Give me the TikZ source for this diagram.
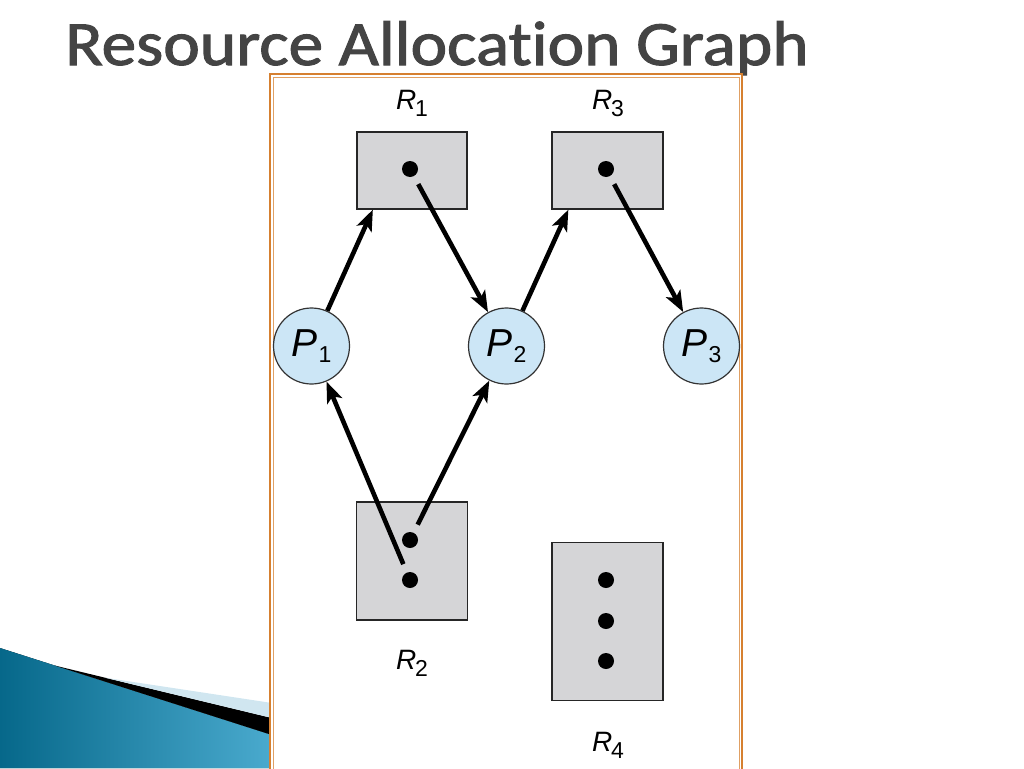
\documentclass[tikz,border=0pt]{standalone}
\usepackage{fontspec}
\usetikzlibrary{arrows.meta}
\definecolor{titlegray}{RGB}{68,68,68}
\definecolor{frameorange}{RGB}{214,128,48}
\definecolor{boxgray}{RGB}{213,213,215}
\definecolor{procblue}{RGB}{204,230,246}
\definecolor{wedgedark}{RGB}{6,104,138}
\definecolor{wedgelight}{RGB}{74,170,206}
\definecolor{wedgepale}{RGB}{208,230,240}
\newfontfamily\titlefont{Carlito}[Ligatures=NoCommon,FakeBold=1.6]
\newfontfamily\labelfont{Liberation Sans}
\newcommand{\rlabel}[1]{{\labelfont\fontsize{28}{28}\selectfont\itshape R\kern-1pt\raisebox{-7pt}{\upshape\fontsize{23}{23}\selectfont #1}}}
\newcommand{\plabel}[1]{{\labelfont\fontsize{39}{39}\selectfont\itshape P\kern1pt\raisebox{-6pt}{\upshape\fontsize{23}{23}\selectfont #1}}}

\begin{document}
\begin{tikzpicture}[x=1pt,y=-1pt]

%
% Styles
%
\tikzstyle{resource} = [rectangle,draw=black!85,fill=boxgray,line width=1.3pt,inner sep=0pt]
\tikzstyle{process}  = [circle,draw=black!80,fill=procblue,line width=1.2pt,minimum size=76pt,inner sep=0pt]
\tikzstyle{dot}      = [circle,fill=black,inner sep=0pt,minimum size=16pt]
\tikzstyle{edge}     = [-{Stealth[length=21pt,width=16pt,inset=5pt]},line width=4.6pt]

\useasboundingbox (0,0) rectangle (1024,768);

% slide decoration
\fill[left color=wedgedark,right color=wedgelight] (0,648) -- (272,735) -- (272,768) -- (0,768) -- cycle;
\fill[black] (55,665.6) -- (272,718) -- (272,735) -- cycle;
\fill[wedgepale] (105,677.7) -- (272,703) -- (272,718) -- cycle;

\node[anchor=base west,inner sep=0pt,text=titlegray,xscale=1.1] (title) at (65,65)
  {\titlefont\fontsize{63}{63}\selectfont Resource Allocation Graph};

% frame
\draw[frameorange,line width=1.4pt,fill=white] (270,74) rectangle (742,775);
\draw[frameorange!75,line width=1pt] (273,77) rectangle (739,775);

\node[resource,minimum width=110pt,minimum height=77pt]  (r1) at (412,170.5) {};
\node[resource,minimum width=111pt,minimum height=77pt]  (r3) at (607.5,170.5) {};
\node[resource,minimum width=111pt,minimum height=118pt] (r2) at (412,561) {};
\node[resource,minimum width=111pt,minimum height=158pt] (r4) at (607.5,621.5) {};

\node[dot] (r1d)  at (410,169) {};
\node[dot] (r3d)  at (606,169) {};
\node[dot] (r2da) at (410,540) {};
\node[dot] (r2db) at (410,580) {};
\node[dot] (r4da) at (606,580) {};
\node[dot] (r4db) at (606,621) {};
\node[dot] (r4dc) at (606,661) {};

\node[process] (p1) at (311.5,346) {\plabel{1}};
\node[process] (p2) at (506.5,346) {\plabel{2}};
\node[process] (p3) at (701.5,346) {\plabel{3}};

\node (r1l) at (412,103) {\rlabel{1}};
\node (r3l) at (608,103) {\rlabel{3}};
\node (r2l) at (412,663) {\rlabel{2}};
\node (r4l) at (608,745) {\rlabel{4}};

\draw[edge] (p1) -- (r1.225);
\draw[edge,shorten <=9pt] (r1d) -- (p2);
\draw[edge] (p2) -- (r3.225);
\draw[edge,shorten <=9pt] (r3d) -- (p3);
\draw[edge,shorten <=9pt] (r2db) -- (p1);
\draw[edge,shorten <=9pt] (r2da) -- (p2);

\end{tikzpicture}
\end{document}
